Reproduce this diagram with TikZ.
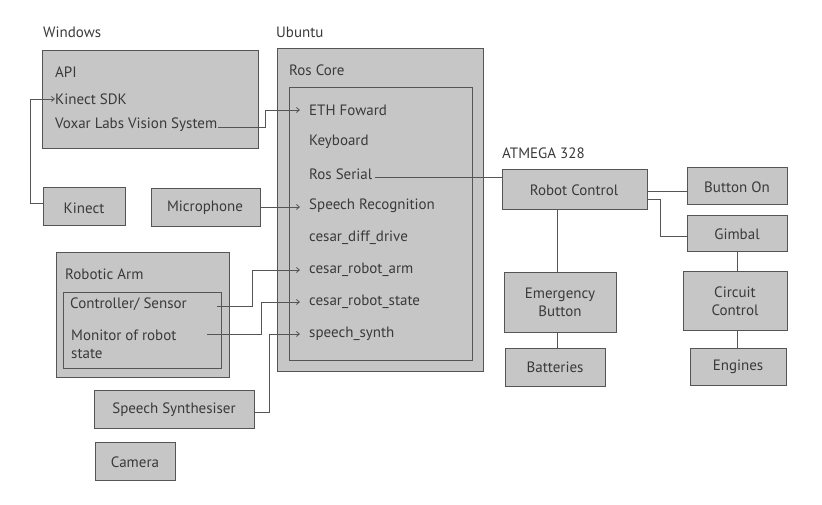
\documentclass[tikz,border=0pt]{standalone}
\usepackage{fontspec}
\setmainfont{PT Sans}
\usetikzlibrary{arrows.meta}
\definecolor{boxfill}{HTML}{C6C6C6}
\definecolor{boxline}{HTML}{555555}
\definecolor{txt}{HTML}{3A3A3A}
\begin{document}
\begin{tikzpicture}[x=1pt,y=-1pt,
  font=\fontsize{15}{18}\selectfont, text=txt,
  bx/.style={draw=boxline,fill=boxfill,line width=1pt},
  lbl/.style={anchor=west,inner sep=0pt},
  ctr/.style={align=center,inner sep=0pt},
  con/.style={draw=boxline,line width=0.8pt},
  arr/.style={con,-{Straight Barb[length=3pt,width=5pt]}}]
\useasboundingbox (0,0) rectangle (822,505);
% Windows
\node[lbl] (winl) at (43,32) {Windows};
\draw[bx] (42,51) rectangle (258,149);
\node[lbl] (api) at (55,72) {API};
\node[lbl] (ksdk) at (55,99) {Kinect SDK};
\node[lbl] (voxar) at (55,125) {Voxar Labs Vision System};
\draw[bx] (43,188) rectangle (125,226);
\node[ctr] (kinect) at (84,208) {Kinect};
\draw[bx] (151,189) rectangle (260,227);
\node[ctr] (mic) at (205,208) {Microphone};
% Ubuntu
\node[lbl] (ubl) at (276,32) {Ubuntu};
\draw[bx] (277,49) rectangle (483,371);
\node[lbl] (roscore) at (289,70) {Ros Core};
\draw[bx] (289,88) rectangle (472,360);
\foreach \n/\t/\y in {eth/ETH Foward/110,kb/Keyboard/142,rser/Ros Serial/174,sr/Speech Recognition/206,dd/cesar\_diff\_drive/238,ra/cesar\_robot\_arm/270,rs/cesar\_robot\_state/302,ss/speech\_synth/334}
  \node[lbl] (\n) at (309,\y) {\t};
% Robotic arm
\draw[bx] (56,253) rectangle (229,377);
\node[lbl] (arm) at (65,274) {Robotic Arm};
\draw[bx] (63,292) rectangle (221,368);
\node[lbl] (ctrl) at (70,304) {Controller/ Sensor};
\node[lbl,align=left] (mon) at (71,344) {Monitor of robot\\state};
\draw[bx] (94,390) rectangle (254,428);
\node[ctr] (synth) at (174,410) {Speech Synthesiser};
\draw[bx] (95,442) rectangle (175,480);
\node[ctr] (cam) at (135,462) {Camera};
% connectors left
\draw[arr] (43,203) -- (30,203) -- (30,99) -- (ksdk.west);
\draw[arr] (voxar.east) ++(1,2) -- (265,127) -- (265,110) -- (300,110);
\draw[arr] (260,207) -- (300,207);
\draw[arr] (217,306) -- (252,306) -- (252,270) -- (300,270);
\draw[arr] (207,334) -- (261,334) -- (261,302) -- (300,302);
\draw[arr] (254,412) -- (269,412) -- (269,334) -- (300,334);
\draw[con] (rser.east) ++(3,3) -- (513,177);
% ATMEGA
\node[lbl] (atl) at (502,153) {ATMEGA 328};
\draw[bx] (502,170) rectangle (647,210);
\node[ctr] (rc) at (574,190) {Robot Control};
\draw[bx] (687,168) rectangle (787,205);
\node[ctr] (bon) at (737,187) {Button On};
\draw[bx] (687,216) rectangle (787,252);
\node[ctr] (gim) at (737,234) {Gimbal};
\draw[bx] (683,271) rectangle (787,330);
\node[ctr] (cc) at (735,301) {Circuit\\Control};
\draw[bx] (690,348) rectangle (786,385);
\node[ctr] (eng) at (738,367) {Engines};
\draw[bx] (504,272) rectangle (616,332);
\node[ctr] (eb) at (560,302) {Emergency\\Button};
\draw[bx] (505,348) rectangle (605,386);
\node[ctr] (bat) at (555,367) {Batteries};
\draw[con] (647,191) -- (687,191);
\draw[con] (647,199) -- (660,199) -- (660,236) -- (687,236);
\draw[con] (737,252) -- (737,271);
\draw[con] (737,330) -- (737,348);
\draw[con] (557,210) -- (557,272);
\draw[con] (557,332) -- (557,348);
\end{tikzpicture}
\end{document}
